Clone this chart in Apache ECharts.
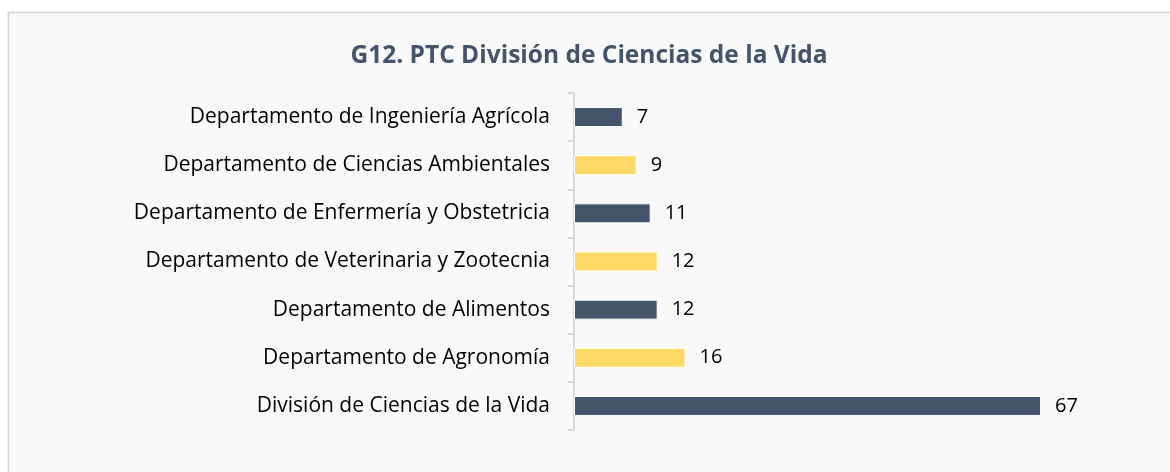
<!DOCTYPE html>
<html>
<head>
<meta charset="utf-8">
<script src="https://cdn.jsdelivr.net/npm/echarts@6/dist/echarts.min.js"></script>
<style>
  html, body { margin: 0; padding: 0; background: #ffffff; }
  #chart-container { width: 1170px; height: 472px; }
</style>
</head>
<body>
<div id="chart-container"></div>
<script>
var categories = [
  'Departamento de Ingeniería Agrícola',
  'Departamento de Ciencias Ambientales',
  'Departamento de Enfermería y Obstetricia',
  'Departamento de Veterinaria y Zootecnia',
  'Departamento de Alimentos',
  'Departamento de Agronomía',
  'División de Ciencias de la Vida'
];
var values = [7, 9, 11, 12, 12, 16, 67];
var barColors = ['#44546a', '#ffd966', '#44546a', '#ffd966', '#44546a', '#ffd966', '#44546a'];

var dom = document.getElementById('chart-container');
var myChart = echarts.init(dom, null, { renderer: 'canvas' });

var fontFamily = '"Open Sans", "Noto Sans", sans-serif';

var option = {
  backgroundColor: '#ffffff',
  animation: false,
  graphic: [
    {
      type: 'rect',
      z: -10,
      shape: { x: 8.5, y: 12.5, width: 1200, height: 500 },
      style: { fill: '#f9f9f9', stroke: '#d9d9d9', lineWidth: 2 }
    }
  ],
  title: {
    text: 'G12. PTC División de Ciencias de la Vida',
    left: 584,
    top: 39,
    textAlign: 'center',
    textStyle: {
      fontFamily: fontFamily,
      fontSize: 24.5,
      fontWeight: 'bold',
      color: '#44546a'
    }
  },
  grid: {
    left: 574,
    right: 108,
    top: 93,
    bottom: 42,
    containLabel: false
  },
  xAxis: {
    type: 'value',
    min: 0,
    max: 70,
    show: false,
    splitLine: { show: false }
  },
  yAxis: {
    type: 'category',
    data: categories,
    inverse: true,
    axisLine: { show: true, lineStyle: { color: '#d9d9d9', width: 2 } },
    axisTick: { show: true, length: 6, lineStyle: { color: '#d9d9d9', width: 2 } },
    axisLabel: {
      margin: 24,
      fontFamily: fontFamily,
      fontSize: 21,
      color: '#000000'
    }
  },
  series: [
    {
      type: 'bar',
      barWidth: 20,
      data: values.map(function (v, i) {
        return { value: v, itemStyle: { color: barColors[i] } };
      }),
      itemStyle: { borderColor: '#ffffff', borderWidth: 1 },
      label: {
        show: true,
        position: 'right',
        distance: 14,
        fontFamily: fontFamily,
        fontSize: 20,
        color: '#000000'
      }
    }
  ]
};

myChart.setOption(option);
window.addEventListener('resize', myChart.resize);
</script>
</body>
</html>
